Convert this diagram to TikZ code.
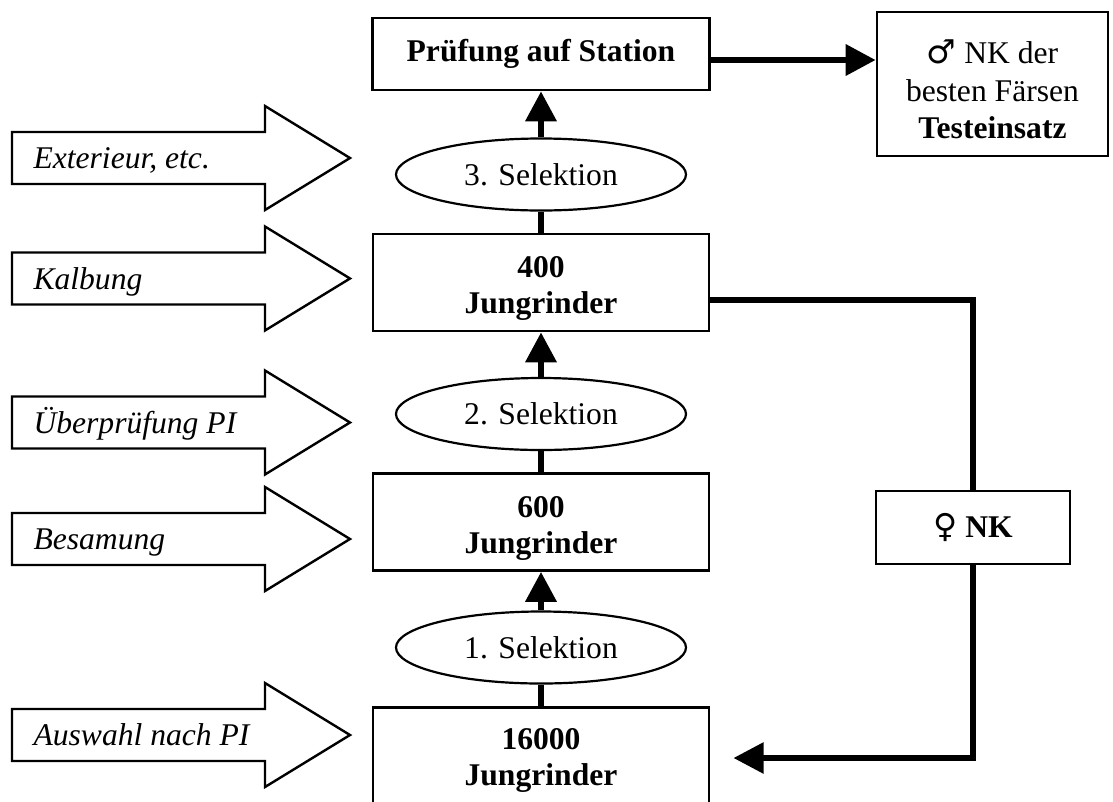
\documentclass[tikz,border=0pt]{standalone}
\usepackage{fontspec}
\setmainfont{Liberation Serif}
\newfontfamily\gendersym{DejaVu Sans}
\usetikzlibrary{shapes.geometric,arrows.meta}
\newcommand\male{{\gendersym\fontsize{33}{36}\selectfont ♂}}
\newcommand\female{{\gendersym\fontsize{33}{36}\selectfont ♀}}
% invisible strut that pushes a multi-line label downwards
\newcommand\lift[1]{\rule{0pt}{#1}}
\tikzset{
  every node/.style={font=\fontsize{31.6}{36}\selectfont},
  stage/.style={draw, line width=2.6pt, rectangle, minimum width=336, minimum height=97,
    inner sep=0, align=center, font=\fontsize{31.6}{36}\selectfont\bfseries},
  sel/.style={draw, ellipse, line width=2.2pt, minimum width=290, minimum height=72, inner sep=0},
  flow/.style={line width=6.5pt},
  flowarr/.style={flow, -{Triangle[length=30pt,width=30pt]}},
  factor/.style={draw, line width=2.4pt, line join=miter, fill=white},
  factortext/.style={anchor=base west, font=\fontsize{31.6}{36}\selectfont\itshape},
}
\begin{document}
\begin{tikzpicture}[x=1pt,y=-1pt]
\useasboundingbox (0,0) rectangle (1113,801);
\clip (0,0) rectangle (1113,801);

% selection chain
\node[stage, minimum width=337, minimum height=72] (pruef) at (541,54) {Prüfung auf Station};
\node[stage, minimum width=231, minimum height=144, font=\fontsize{31.6}{37.5}\selectfont]
  (nkm) at (992.5,84) {\lift{35pt}\male{} NK der\\besten Färsen\\\textbf{Testeinsatz}};
\node[sel] (s3) at (541,174.5) {3. Selektion};
\node[stage] (j400) at (541,282.5) {\lift{33.5pt}400\\Jungrinder};
\node[sel] (s2) at (541,414) {2. Selektion};
\node[stage] (j600) at (541,522) {\lift{33.5pt}600\\Jungrinder};
\node[sel] (s1) at (541,647.5) {1. Selektion};
\node[stage] (j16000) at (541,756) {\lift{30pt}16000\\Jungrinder};
\node[stage, minimum width=194, minimum height=73, font=\fontsize{31.6}{36}\selectfont]
  (nkf) at (973,527.5) {\female{} \textbf{NK}};
\coordinate (back) at (733.5,758);

% connectors
\draw[flowarr] (s3) -- (pruef);
\draw[flow] (j400) -- (s3);
\draw[flowarr] (s2) -- (j400);
\draw[flow] (j600) -- (s2);
\draw[flowarr] (s1) -- (j600);
\draw[flow] (j16000) -- (s1);
\draw[flowarr] ([yshift=-6pt]pruef.east) -- ([yshift=-6pt]pruef.east -| nkm.west);
\draw[flow, line width=5.5pt] ([yshift=-17.5pt]j400.east) -| (nkf.north);
\draw[flowarr, line width=5.5pt] (nkf.south) |- (back);

% influencing factors
\foreach \yy/\nm/\txt in {158/ext/{Exterieur, etc.}, 278.5/kalb/{Kalbung},
    422.5/ueber/{Überprüfung PI}, 539/besam/{Besamung}, 735/ausw/{Auswahl nach PI}} {
  \draw[factor] (12,{\yy-26}) -- (265,{\yy-26}) -- (265,{\yy-52}) -- (350,\yy)
    -- (265,{\yy+52}) -- (265,{\yy+26}) -- (12,{\yy+26}) -- cycle;
  \node[factortext] (\nm) at (30,{\yy+10.5}) {\txt};
}
\end{tikzpicture}
\end{document}
